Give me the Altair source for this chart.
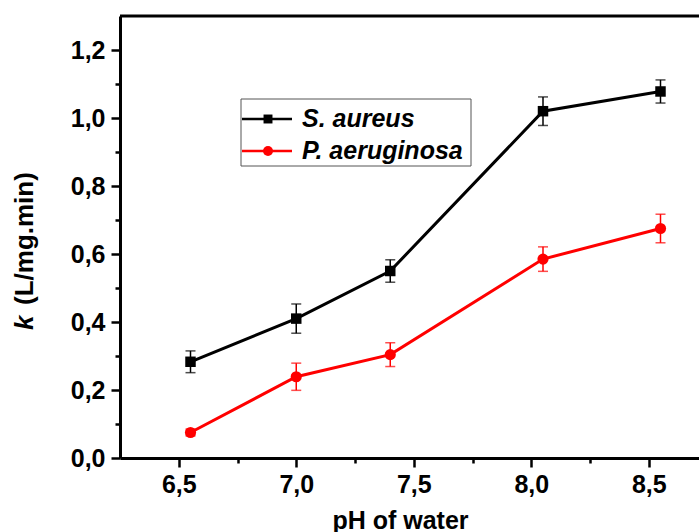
import altair as alt
import pandas as pd

# ---- data ----
ph = [6.55, 7.0, 7.4, 8.05, 8.55]
s_aureus = [0.283, 0.41, 0.55, 1.02, 1.078]
s_aureus_err = [0.032, 0.043, 0.033, 0.042, 0.034]
p_aeruginosa = [0.075, 0.239, 0.304, 0.585, 0.675]
p_aeruginosa_err = [0.01, 0.04, 0.035, 0.036, 0.042]
series_names = ["S. aureus", "P. aeruginosa"]
series_colors = ["#000000", "#ff0000"]
err_colors = ["#222222", "#ff5a5a"]
x_ticks = [6.5, 7.0, 7.5, 8.0, 8.5]
x_minor = [6.75, 7.25, 7.75, 8.25]
y_ticks = [0.0, 0.2, 0.4, 0.6, 0.8, 1.0, 1.2]
y_minor = [0.1, 0.3, 0.5, 0.7, 0.9, 1.1]
x_title = "pH of water"
y_title_k = "k"
y_title_rest = "(L/mg.min)"

rows = []
for name, vals, errs in [(series_names[0], s_aureus, s_aureus_err),
                         (series_names[1], p_aeruginosa, p_aeruginosa_err)]:
    for x, v, e in zip(ph, vals, errs):
        rows.append({"series": name, "ph": x, "k": v, "lo": v - e, "hi": v + e})
df = pd.DataFrame(rows)

W, H = 579, 442
FONT = "Liberation Sans"
xscale = alt.Scale(domain=[6.25, 6.25 + 579 / 235], nice=False, zero=False)
yscale = alt.Scale(domain=[0, 1.3], nice=False, zero=False)
cscale = alt.Scale(domain=series_names, range=series_colors)
escale = alt.Scale(domain=series_names, range=err_colors)

lab_expr = "replace(format(datum.value, '.1f'), '.', ',')"
major_x = alt.Axis(values=x_ticks, labelExpr=lab_expr, tickSize=9, orient="bottom",
                   title=x_title, titleX=280, titleY=50, titleBaseline="top",
                   titleAnchor="middle", titleAlign="center", labelPadding=5)
minor_x = alt.Axis(values=x_minor, labels=False, tickSize=5, orient="bottom",
                   title=None, domain=False)
major_y = alt.Axis(values=y_ticks, labelExpr=lab_expr, tickSize=9, orient="left",
                   title=None, labelPadding=6)
minor_y = alt.Axis(values=y_minor, labels=False, tickSize=5, orient="left",
                   title=None, domain=False)

base = alt.Chart(df)

lines = base.mark_line(strokeWidth=3).encode(
    x=alt.X("ph:Q", scale=xscale, axis=major_x),
    y=alt.Y("k:Q", scale=yscale, axis=major_y),
    color=alt.Color("series:N", scale=cscale, legend=None),
    detail="series:N",
)
minor_axes = base.mark_point(opacity=0).encode(
    x=alt.X("ph:Q", scale=xscale, axis=minor_x),
    y=alt.Y("k:Q", scale=yscale, axis=minor_y),
)
err_rule = base.mark_rule(strokeWidth=1.5).encode(
    x=alt.X("ph:Q", scale=xscale, axis=None),
    y=alt.Y("lo:Q", scale=yscale, axis=None),
    y2="hi:Q",
    color=alt.Color("series:N", scale=escale, legend=None),
)
cap_hi = base.mark_tick(orient="horizontal", size=10, thickness=1.5).encode(
    x=alt.X("ph:Q", scale=xscale, axis=None),
    y=alt.Y("hi:Q", scale=yscale, axis=None),
    color=alt.Color("series:N", scale=escale, legend=None),
)
cap_lo = base.mark_tick(orient="horizontal", size=10, thickness=1.5).encode(
    x=alt.X("ph:Q", scale=xscale, axis=None),
    y=alt.Y("lo:Q", scale=yscale, axis=None),
    color=alt.Color("series:N", scale=escale, legend=None),
)
sq = base.transform_filter(alt.datum.series == series_names[0]).mark_point(
    shape="square", filled=True, size=110, opacity=1, color=series_colors[0]).encode(
    x=alt.X("ph:Q", scale=xscale, axis=None),
    y=alt.Y("k:Q", scale=yscale, axis=None),
)
circ = base.transform_filter(alt.datum.series == series_names[1]).mark_point(
    shape="circle", filled=True, size=125, opacity=1, color=series_colors[1]).encode(
    x=alt.X("ph:Q", scale=xscale, axis=None),
    y=alt.Y("k:Q", scale=yscale, axis=None),
)

one = alt.Chart(pd.DataFrame({"a": [0]}))
top_border = one.mark_rule(strokeWidth=3, color="black").encode(
    x=alt.value(0), x2=alt.value(W), y=alt.value(0))

# legend (decoration)
leg_box = one.mark_rect(fill="white", stroke="#555555", strokeWidth=1).encode(
    x=alt.value(121), x2=alt.value(351), y=alt.value(83), y2=alt.value(150))
leg_layers = [leg_box]
for i, (yy, shape, sz) in enumerate([(103, "square", 80), (135, "circle", 100)]):
    leg_layers.append(one.mark_rule(strokeWidth=2.5, color=series_colors[i]).encode(
        x=alt.value(122), x2=alt.value(172), y=alt.value(yy)))
    leg_layers.append(one.mark_point(shape=shape, filled=True, size=sz, opacity=1,
                                     color=series_colors[i]).encode(
        x=alt.value(148), y=alt.value(yy)))
    leg_layers.append(one.mark_text(align="left", baseline="middle", font=FONT,
                                    fontSize=25, fontWeight="bold", fontStyle="italic",
                                    color="black").encode(
        x=alt.value(182), y=alt.value(yy), text=alt.value(series_names[i])))

ytitle_k = one.mark_text(angle=270, align="left", baseline="middle", font=FONT,
                         fontSize=26, fontWeight="bold", fontStyle="italic",
                         color="black").encode(
    x=alt.value(-95), y=alt.value(314), text=alt.value(y_title_k))
ytitle_rest = one.mark_text(angle=270, align="left", baseline="middle", font=FONT,
                            fontSize=26, fontWeight="bold", color="black").encode(
    x=alt.value(-95), y=alt.value(289), text=alt.value(y_title_rest))

chart = alt.layer(
    lines, minor_axes, err_rule, cap_hi, cap_lo, sq, circ, top_border,
    *leg_layers, ytitle_k, ytitle_rest
).resolve_axis(x="independent", y="independent").properties(
    width=W, height=H,
    autosize=alt.AutoSizeParams(type="none"),
    padding={"left": 120, "top": 16, "right": 0, "bottom": 74},
    background="white",
).configure_view(stroke=None).configure_axis(
    labelFont=FONT, labelFontSize=25, labelFontWeight="bold", labelColor="black",
    titleFont=FONT, titleFontSize=25, titleFontWeight="bold", titleColor="black",
    domainColor="black", domainWidth=3, tickColor="black", tickWidth=2.5, grid=False,
)

chart.save("out.html", embed_options={"renderer": "svg", "actions": False})
